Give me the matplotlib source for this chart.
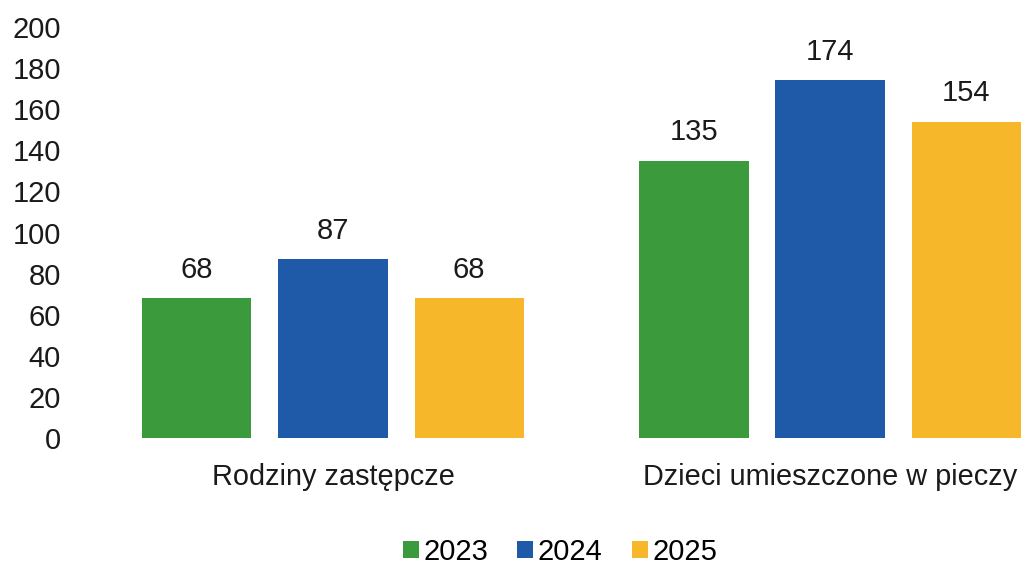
import numpy as np
import matplotlib.pyplot as plt

categories = ['Rodziny zastępcze', 'Dzieci umieszczone w pieczy']
years = ['2023', '2024', '2025']
values_2023 = [68, 135]
values_2024 = [87, 174]
values_2025 = [68, 154]
colors = ['#3a9a3c', '#1f5aa8', '#f6b82a']

plt.rcParams['font.family'] = ['Liberation Sans', 'DejaVu Sans']

fig = plt.figure(figsize=(10.22, 5.64), dpi=100)
# axes: x from 75px to 1022px, y zero at 438px and 200 at 27px
ax = fig.add_axes([75/1022, 126/564, 947/1022, 411/564])

x = np.arange(len(categories))
w = 0.22
step = 0.274
series = [values_2023, values_2024, values_2025]
for i, (vals, c, lab) in enumerate(zip(series, colors, years)):
    bars = ax.bar(x + (i - 1)*step, vals, width=w, color=c, label=lab)
    for b, v in zip(bars, vals):
        ax.text(b.get_x() + b.get_width()/2, v + 7, str(v),
                ha='center', va='bottom', fontsize=21, color='#1a1a1a')

ax.set_xlim(-0.519, 1.386)
ax.set_ylim(0, 200)
ax.set_yticks(np.arange(0, 201, 20))
ax.tick_params(axis='y', length=0, labelsize=21, pad=10, colors='#1a1a1a')
ax.set_xticks(x)
ax.set_xticklabels(categories)
ax.tick_params(axis='x', length=0, labelsize=20.8, pad=18, colors='#1a1a1a')
for s in ax.spines.values():
    s.set_visible(False)

fig.legend(loc='center', bbox_to_anchor=(560/1022, 1 - 552/564), ncol=3,
           frameon=False, fontsize=21, handlelength=0.55, handleheight=0.55,
           handletextpad=0.15, columnspacing=1.0)

fig.savefig('out.png', dpi=100)
